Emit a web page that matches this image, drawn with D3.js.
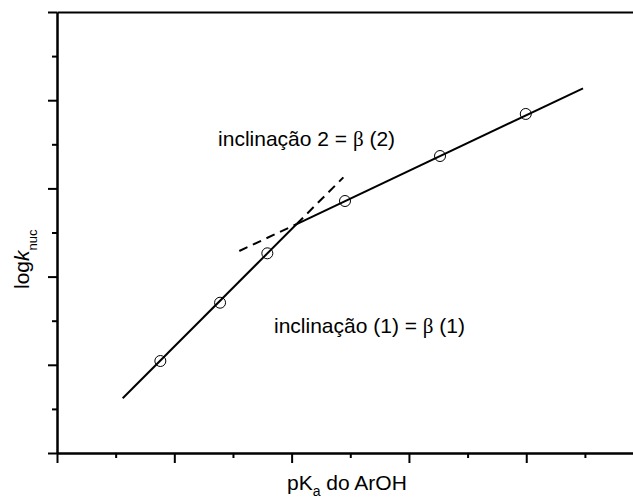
<!DOCTYPE html>
<html>
<head>
<meta charset="utf-8">
<script src="https://cdn.jsdelivr.net/npm/d3@7/dist/d3.min.js"></script>
<style>
  html, body { margin: 0; padding: 0; background: #fff; }
  svg { display: block; }
  text { font-family: "Liberation Sans", Arial, Helvetica, sans-serif; fill: #000; }
</style>
</head>
<body>
<svg id="chart" width="633" height="498"></svg>
<script>
// ---- data (axis units: pKa of ArOH vs log k_nuc; no tick labels in the original) ----
const pointX = [0.881, 1.390, 1.793, 2.455, 3.265, 3.996];
const pointY = [1.043, 1.704, 2.264, 2.857, 3.367, 3.844];

const fit1X = [0.560, 2.043];
const fit1Y = [0.620, 2.596];
const fit2X = [2.043, 4.484];
const fit2Y = [2.596, 4.135];

const ext2X = [1.554, 2.043];   // dashed backward extension of slope 2
const ext2Y = [2.290, 2.596];
const ext1X = [2.043, 2.441];   // dashed forward extension of slope 1
const ext1Y = [2.596, 3.125];

const xMajorTicks = [0, 1, 2, 3, 4];
const xMinorTicks = [0.5, 1.5, 2.5, 3.5, 4.5];
const yMajorTicks = [0, 1, 2, 3, 4, 5];
const yMinorTicks = [0.5, 1.5, 2.5, 3.5, 4.5];

const labelSlope2 = { text: "inclinação 2 = ", beta: "β", tail: " (2)", x: 1.373, y: 3.481 };
const labelSlope1 = { text: "inclinação (1) = ", beta: "β", tail: " (1)", x: 1.850, y: 1.361 };

// ---- chart ----
(function () {
const svg = d3.select("#chart");
const W = 633, H = 498;
const mLeft = 57, mTop = 12, mBottom = 453;

const x = d3.scaleLinear().domain([0, 4.91]).range([mLeft, W]);
const y = d3.scaleLinear().domain([0, 5]).range([mBottom, mTop]);

function styleAxis(g) {
  g.selectAll("path.domain").attr("stroke", "#000").attr("stroke-width", 2);
  g.selectAll(".tick line").attr("stroke", "#000").attr("stroke-width", 2);
  g.selectAll(".tick text").remove();
}

// x axis (bottom)
svg.append("g").attr("transform", `translate(0,${mBottom})`)
  .call(d3.axisBottom(x).tickValues(xMinorTicks).tickSize(5).tickSizeOuter(0).tickFormat(""))
  .call(styleAxis);
svg.append("g").attr("transform", `translate(0,${mBottom})`)
  .call(d3.axisBottom(x).tickValues(xMajorTicks).tickSize(10).tickSizeOuter(0).tickFormat(""))
  .call(styleAxis);

// top frame line
svg.append("g").attr("transform", `translate(0,${mTop})`)
  .call(d3.axisTop(x).tickValues([]).tickSizeOuter(0))
  .call(styleAxis);

// y axis (left)
svg.append("g").attr("transform", `translate(${mLeft},0)`)
  .call(d3.axisLeft(y).tickValues(yMinorTicks).tickSize(5).tickSizeOuter(0).tickFormat(""))
  .call(styleAxis);
svg.append("g").attr("transform", `translate(${mLeft},0)`)
  .call(d3.axisLeft(y).tickValues(yMajorTicks).tickSize(9).tickSizeOuter(0).tickFormat(""))
  .call(styleAxis);

const line = d3.line().x(d => x(d[0])).y(d => y(d[1]));
const zip = (a, b) => a.map((v, i) => [v, b[i]]);

// fitted lines
[[fit1X, fit1Y], [fit2X, fit2Y]].forEach(([xs, ys]) => {
  svg.append("path").datum(zip(xs, ys))
    .attr("d", line).attr("fill", "none").attr("stroke", "#000").attr("stroke-width", 2);
});
// dashed extensions
[[ext2X, ext2Y], [ext1X, ext1Y]].forEach(([xs, ys]) => {
  svg.append("path").datum(zip(xs, ys))
    .attr("d", line).attr("fill", "none").attr("stroke", "#000")
    .attr("stroke-width", 2).attr("stroke-dasharray", "9,6");
});

// points
svg.append("g").selectAll("circle").data(zip(pointX, pointY)).join("circle")
  .attr("cx", d => x(d[0])).attr("cy", d => y(d[1])).attr("r", 5.5)
  .attr("fill", "none").attr("stroke", "#000").attr("stroke-width", 1);

// annotations
[labelSlope2, labelSlope1].forEach(l => {
  const t = svg.append("text").attr("x", x(l.x)).attr("y", y(l.y)).attr("font-size", 21);
  t.append("tspan").text(l.text);
  t.append("tspan").attr("font-family", "'Liberation Serif', 'DejaVu Serif', serif").text(l.beta);
  t.append("tspan").text(l.tail);
});

// x axis title
const xt = svg.append("text").attr("x", 287).attr("y", 490).attr("font-size", 21);
xt.append("tspan").text("pK");
xt.append("tspan").attr("font-size", 14).attr("dy", 6).text("a");
xt.append("tspan").attr("dy", -6).text(" do ArOH");

// y axis title
const yt = svg.append("text").attr("transform", "translate(29,289) rotate(-90)").attr("font-size", 21);
yt.append("tspan").text("log");
yt.append("tspan").attr("font-style", "italic").text("k");
yt.append("tspan").attr("font-size", 13).attr("dy", 8).text("nuc");
})();
</script>
</body>
</html>
